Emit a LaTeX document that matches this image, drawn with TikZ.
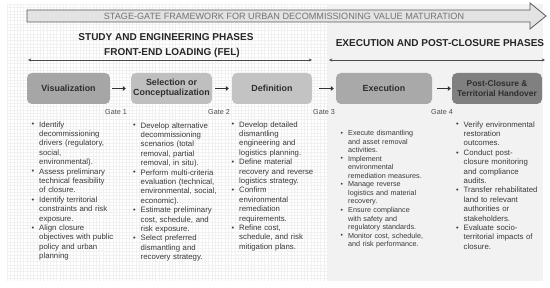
\documentclass[tikz,border=0pt]{standalone}
\usepackage{fontspec}
\usepackage{graphicx}
\setmainfont{Liberation Sans}
\usetikzlibrary{arrows.meta}
\definecolor{txt}{HTML}{3A3A3A}
\definecolor{boxtxt}{HTML}{2E2E2E}
\definecolor{visfill}{HTML}{A6A6A6}
\definecolor{selfill}{HTML}{BFBFBF}
\definecolor{deffill}{HTML}{C3C3C3}
\definecolor{exefill}{HTML}{A9A9A9}
\definecolor{postfill}{HTML}{808080}
\definecolor{panelfill}{HTML}{F2F2F2}
\definecolor{gridcol}{HTML}{F1F1F1}
\definecolor{bannerfill}{HTML}{E3E3E3}
\definecolor{bannerdraw}{HTML}{5A5A5A}
\newcommand{\bl}{\par\noindent\hangindent=7.5pt\hangafter=1\makebox[7.5pt][l]{\raisebox{0.2pt}{\scalebox{0.95}{•}}}}
\newcommand{\nl}{\hfil\break}
\begin{document}
\begin{tikzpicture}[x=1pt,y=-1pt,
  gridline/.style={draw=gridcol,line width=0.12pt},
  phasebox/.style={rounded corners=5pt,minimum height=31pt,inner sep=1pt,align=center,
    font=\bfseries\fontsize{8.9}{10.2}\selectfont,text=boxtxt},
  conn/.style={line width=1.4pt,draw=black!80,-{Triangle[length=3pt,width=4.6pt]}},
  span/.style={line width=0.6pt,draw=black!70,{Stealth[length=3.2pt,width=3pt]}-{Stealth[length=3.2pt,width=3pt]}},
  header/.style={anchor=base,inner sep=0pt,font=\bfseries\fontsize{10}{12}\selectfont,text=black!85},
  gate/.style={inner sep=0pt,font=\fontsize{7.2}{8}\selectfont,text=black!70},
  col/.style={anchor=north west,inner sep=0pt,text width=#1,text=txt,
    font=\fontsize{7.8}{9.4}\selectfont},
  colsmall/.style={anchor=north west,inner sep=0pt,text width=#1,text=txt,
    font=\fontsize{7.2}{8.55}\selectfont}
]
\useasboundingbox (0,0) rectangle (550,288);
\fill[white] (0,0) rectangle (550,288);
% grid area
\fill[white] (7,4) rectangle (328,281);
\foreach \i in {0,...,97} \draw[gridline] ({7+\i*3.3},4) -- ({7+\i*3.3},281);
\foreach \j in {0,...,83} \draw[gridline] (7,{4+\j*3.3}) -- (328,{4+\j*3.3});
% right panel
\fill[panelfill] (328,4) rectangle (543,281);

% banner arrow
\draw[fill=bannerfill,draw=bannerdraw,line width=0.8pt,line join=miter]
  (27,10) -- (530,10) -- (530,3) -- (546,16) -- (530,29) -- (530,22) -- (27,22) -- cycle;
\node[inner sep=0pt,font=\fontsize{9.1}{10}\selectfont,text=black!55] (title) at (284,16.3)
  {STAGE-GATE FRAMEWORK FOR URBAN DECOMMISSIONING VALUE MATURATION};

% headers
\node[header] (h1) at (166,41) {STUDY AND ENGINEERING PHASES};
\node[header] (h2) at (172,56) {FRONT-END LOADING (FEL)};
\node[header] (h3) at (440,47) {EXECUTION AND POST-CLOSURE PHASES};

% span lines
\coordinate (fl) at (28,60);
\coordinate (fr) at (312,60);
\coordinate (el) at (329,60);
\coordinate (er) at (545,60);
\draw[span] (fl) -- (fr);
\draw[span] (el) -- (er);

% phase boxes
\node[phasebox,fill=visfill,minimum width=83pt] (vis) at (68.5,88.5) {Visualization};
\node[phasebox,fill=selfill,minimum width=81pt] (sel) at (171.5,88.5) {Selection or\\Conceptualization};
\node[phasebox,fill=deffill,minimum width=80pt] (def) at (272,88.5) {Definition};
\node[phasebox,fill=exefill,minimum width=96pt] (exe) at (384,88.5) {Execution};
\node[phasebox,fill=postfill,minimum width=90pt,font=\bfseries\fontsize{8.4}{10}\selectfont] (post) at (497,88.5) {Post-Closure \&\\Territorial Handover};

% connectors
\draw[conn,shorten <=2pt,shorten >=5pt] (vis.east) -- (sel.west);
\draw[conn,shorten <=3pt,shorten >=3pt] (sel.east) -- (def.west);
\draw[conn,shorten <=7pt,shorten >=2pt] (def.east) -- (exe.west);
\draw[conn,shorten <=5pt,shorten >=1pt] (exe.east) -- (post.west);

% gates
\node[gate] (g1) at (116,112) {Gate 1};
\node[gate] (g2) at (219,112) {Gate 2};
\node[gate] (g3) at (324,112) {Gate 3};
\node[gate] (g4) at (442,112) {Gate 4};

% columns
\node[col=92pt] (c1) at (31.5,117.5) {%
\bl Identify\nl decommissioning\nl drivers (regulatory,\nl social,\nl environmental).
\bl Assess preliminary\nl technical feasibility\nl of closure.
\bl Identify territorial\nl constraints and risk\nl exposure.
\bl Align closure\nl objectives with public\nl policy and urban\nl planning\par};

\node[col=94pt] (c2) at (133,118.5) {%
\bl Develop alternative\nl decommissioning\nl scenarios (total\nl removal, partial\nl removal, in situ).
\bl Perform multi-criteria\nl evaluation (technical,\nl environmental, social,\nl economic).
\bl Estimate preliminary\nl cost, schedule, and\nl risk exposure.
\bl Select preferred\nl dismantling and\nl recovery strategy.\par};

\node[col=94pt] (c3) at (231.5,117.5) {%
\bl Develop detailed\nl dismantling\nl engineering and\nl logistics planning.
\bl Define material\nl recovery and reverse\nl logistics strategy.
\bl Confirm\nl environmental\nl remediation\nl requirements.
\bl Refine cost,\nl schedule, and risk\nl mitigation plans.\par};

\node[colsmall=100pt] (c4) at (340.5,126.8) {%
\bl Execute dismantling\nl and asset removal\nl activities.
\bl Implement\nl environmental\nl remediation measures.
\bl Manage reverse\nl logistics and material\nl recovery.
\bl Ensure compliance\nl with safety and\nl regulatory standards.
\bl Monitor cost, schedule,\nl and risk performance.\par};

\node[col=88pt] (c5) at (456,117.5) {%
\bl Verify environmental\nl restoration\nl outcomes.
\bl Conduct post-\nl closure monitoring\nl and compliance\nl audits.
\bl Transfer rehabilitated\nl land to relevant\nl authorities or\nl stakeholders.
\bl Evaluate socio-\nl territorial impacts of\nl closure.\par};
\end{tikzpicture}
\end{document}
